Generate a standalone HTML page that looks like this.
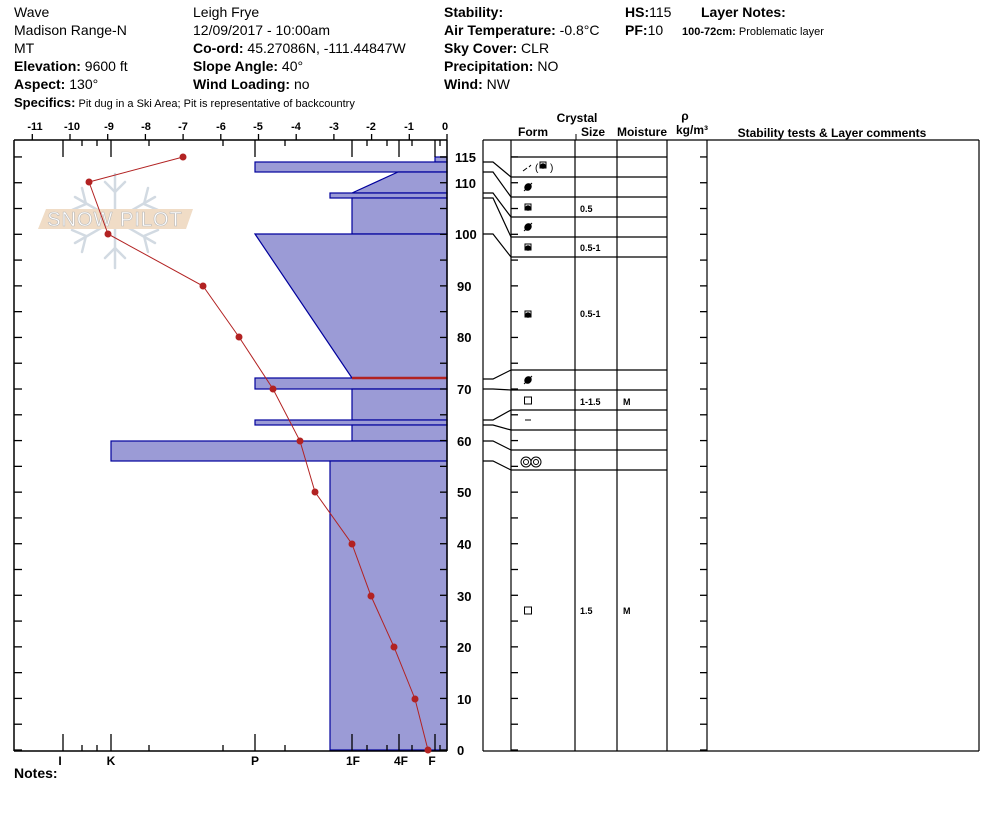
<!DOCTYPE html>
<html><head><meta charset="utf-8"><style>
body{margin:0;background:#fff;width:994px;height:840px;overflow:hidden}
svg{display:block;font-family:"Liberation Sans",Arial,sans-serif}
.h{font-size:14px}
.b{font-weight:bold}
.s{font-size:11px;font-weight:bold}
</style></head><body>
<svg width="994" height="840" viewBox="0 0 994 840" xmlns="http://www.w3.org/2000/svg">
<!-- header -->
<g class="h" fill="#000">
<text x="14" y="17">Wave</text>
<text x="14" y="35">Madison Range-N</text>
<text x="14" y="53">MT</text>
<text x="14" y="71"><tspan class="b">Elevation:</tspan> 9600 ft</text>
<text x="14" y="89"><tspan class="b">Aspect:</tspan> 130°</text>
<text x="14" y="107" font-size="13"><tspan class="b">Specifics:</tspan><tspan font-size="11"> Pit dug in a Ski Area; Pit is representative of backcountry</tspan></text>
<text x="193" y="17">Leigh Frye</text>
<text x="193" y="35">12/09/2017 - 10:00am</text>
<text x="193" y="53"><tspan class="b">Co-ord:</tspan> 45.27086N, -111.44847W</text>
<text x="193" y="71"><tspan class="b">Slope Angle:</tspan> 40°</text>
<text x="193" y="89"><tspan class="b">Wind Loading:</tspan> no</text>
<text x="444" y="17" class="b">Stability:</text>
<text x="444" y="35"><tspan class="b">Air Temperature:</tspan> -0.8°C</text>
<text x="444" y="53"><tspan class="b">Sky Cover:</tspan> CLR</text>
<text x="444" y="71"><tspan class="b">Precipitation:</tspan> NO</text>
<text x="444" y="89"><tspan class="b">Wind:</tspan>  NW</text>
<text x="625" y="17"><tspan class="b">HS:</tspan>115</text>
<text x="625" y="35"><tspan class="b">PF:</tspan>10</text>
<text x="701" y="17" class="b">Layer Notes:</text>
<text x="682" y="35" font-size="11"><tspan class="b">100-72cm:</tspan> Problematic layer</text>
</g>

<!-- watermark -->
<g stroke="#d2dae2" stroke-width="2.5" fill="none" stroke-linecap="round">
<line x1="115" y1="174" x2="115" y2="268"/>
<line x1="75" y1="197" x2="155" y2="243"/>
<line x1="75" y1="243" x2="155" y2="197"/>
<path d="M105 182 L115 192 L125 182 M105 258 L115 248 L125 258 M82 188 L86 204 L72 210 M148 188 L144 204 L158 210 M82 252 L86 236 L72 230 M148 252 L144 236 L158 230"/>
</g>
<polygon points="46,209 193,209 186,229 38,229" fill="#f0dcc6"/>
<text x="115" y="226" text-anchor="middle" font-size="20" fill="#fff" stroke="#bbb" stroke-width="0.6" letter-spacing="1">SNOW PILOT</text>

<!-- hardness bars -->
<g fill="#9b9bd6" stroke="#00009c" stroke-width="1.2">
<rect x="435" y="157" width="12" height="5"/>
<rect x="255" y="162" width="192" height="10"/>
<polygon points="398,172 447,172 447,193 353,193 352,193"/>
<rect x="330" y="193" width="117" height="5"/>
<rect x="352" y="198" width="95" height="36"/>
<polygon points="255,234 447,234 447,378 352,378"/>
<rect x="255" y="378" width="192" height="11"/>
<rect x="352" y="389" width="95" height="31"/>
<rect x="255" y="420" width="192" height="5"/>
<rect x="352" y="425" width="95" height="16"/>
<rect x="111" y="441" width="336" height="20"/>
<rect x="330" y="461" width="117" height="289"/>
</g>
<line x1="352" y1="378" x2="447" y2="378" stroke="#b22222" stroke-width="2.5"/>

<!-- left chart frame -->
<g stroke="#000" stroke-width="1.5" fill="none">
<line x1="14" y1="140" x2="447" y2="140"/>
<line x1="14" y1="140" x2="14" y2="751"/>
<line x1="14" y1="751" x2="447" y2="751"/>
<line x1="447" y1="140" x2="447" y2="751"/>
</g>
<g id="ticks" stroke="#000" stroke-width="1.3"></g>

<!-- temp axis labels -->
<g font-size="11" font-weight="bold" text-anchor="middle">
<text x="35" y="130">-11</text><text x="72" y="130">-10</text><text x="109" y="130">-9</text><text x="146" y="130">-8</text><text x="183" y="130">-7</text><text x="221" y="130">-6</text><text x="258" y="130">-5</text><text x="296" y="130">-4</text><text x="334" y="130">-3</text><text x="371" y="130">-2</text><text x="409" y="130">-1</text><text x="445" y="130">0</text>
</g>
<!-- hardness labels -->
<g font-size="12" font-weight="bold" text-anchor="middle">
<text x="60" y="765">I</text><text x="111" y="765">K</text><text x="255" y="765">P</text><text x="353" y="765">1F</text><text x="401" y="765">4F</text><text x="432" y="765">F</text>
</g>
<text x="14" y="778" font-size="14" font-weight="bold">Notes:</text>

<!-- cm labels -->
<g font-size="13" font-weight="bold">
<text x="455" y="162">115</text><text x="455" y="188">110</text><text x="455" y="239">100</text>
<text x="457" y="291">90</text><text x="457" y="342">80</text><text x="457" y="394">70</text><text x="457" y="446">60</text><text x="457" y="497">50</text><text x="457" y="549">40</text><text x="457" y="601">30</text><text x="457" y="652">20</text><text x="457" y="704">10</text><text x="457" y="755">0</text>
</g>

<!-- temperature profile -->
<polyline points="183,157 89,182 108,234 203,286 239,337 273,389 300,441 315,492 352,544 371,596 394,647 415,699 428,750" fill="none" stroke="#b22222" stroke-width="1"/>
<g fill="#b22222">
<circle cx="183" cy="157" r="3.5"/><circle cx="89" cy="182" r="3.5"/><circle cx="108" cy="234" r="3.5"/><circle cx="203" cy="286" r="3.5"/><circle cx="239" cy="337" r="3.5"/><circle cx="273" cy="389" r="3.5"/><circle cx="300" cy="441" r="3.5"/><circle cx="315" cy="492" r="3.5"/><circle cx="352" cy="544" r="3.5"/><circle cx="371" cy="596" r="3.5"/><circle cx="394" cy="647" r="3.5"/><circle cx="415" cy="699" r="3.5"/><circle cx="428" cy="750" r="3.5"/>
</g>

<!-- right table -->
<g font-size="12" font-weight="bold" text-anchor="middle">
<text x="577" y="122">Crystal</text>
<text x="533" y="136">Form</text>
<text x="593" y="136">Size</text>
<text x="642" y="136">Moisture</text>
<text x="685" y="120">ρ</text>
<text x="692" y="134">kg/m³</text>
<text x="832" y="137">Stability tests &amp; Layer comments</text>
</g>
<line x1="576" y1="134" x2="576" y2="140" stroke="#000"/>
<g stroke="#000" stroke-width="1.2" fill="none">
<line x1="483" y1="140" x2="979" y2="140"/>
<line x1="483" y1="140" x2="483" y2="751"/>
<line x1="483" y1="751" x2="979" y2="751"/>
<line x1="979" y1="140" x2="979" y2="751"/>
<line x1="511" y1="140" x2="511" y2="751"/>
<line x1="575" y1="140" x2="575" y2="751"/>
<line x1="617" y1="140" x2="617" y2="751"/>
<line x1="667" y1="140" x2="667" y2="751"/>
<line x1="707" y1="140" x2="707" y2="751"/>
<path d="M511 157H667M511 177H667M511 197H667M511 217H667M511 237H667M511 257H667M511 370H667M511 390H667M511 410H667M511 430H667M511 450H667M511 470H667"/>
<path d="M483 162H493L511 177M483 172H493L511 197M483 193H493L511 217M483 198H493L511 237M483 234H493L511 257M483 379H493L511 370M483 389H493L511 390M483 420H493L511 410M483 425H493L511 430M483 441H493L511 450M483 461H493L511 470"/>
</g>
<!-- form symbols -->
<g font-size="9" font-weight="bold">
<text x="580" y="212">0.5</text>
<text x="580" y="251">0.5-1</text>
<text x="580" y="317">0.5-1</text>
<text x="580" y="405">1-1.5</text>
<text x="623" y="405">M</text>
<text x="580" y="614">1.5</text>
<text x="623" y="614">M</text>
</g>
<g stroke="#000" fill="#000" stroke-width="1">
<path d="M523 171 L527 168 M529 167 L531 165" fill="none"/>
<text x="535" y="171" font-size="10" stroke="none">(</text>
<rect x="540" y="162" width="6" height="6" fill="#fff"/><circle cx="543" cy="166" r="2.3"/>
<text x="550" y="171" font-size="10" stroke="none">)</text>
<ellipse cx="528" cy="187" rx="3" ry="3.5" transform="rotate(40 528 187)"/><line x1="524" y1="191" x2="532" y2="183"/>
<rect x="525" y="204" width="6" height="6" fill="#fff"/><circle cx="528" cy="208" r="2.3"/>
<ellipse cx="528" cy="227" rx="3" ry="3.5" transform="rotate(40 528 227)"/><line x1="524" y1="231" x2="532" y2="223"/>
<rect x="525" y="244" width="6" height="6" fill="#fff"/><circle cx="528" cy="248" r="2.3"/>
<rect x="525" y="311" width="6" height="6" fill="#fff"/><circle cx="528" cy="315" r="2.3"/>
<ellipse cx="528" cy="380" rx="3" ry="3.5" transform="rotate(40 528 380)"/><line x1="524" y1="384" x2="532" y2="376"/>
<rect x="524.5" y="397" width="7" height="7" fill="none"/>
<line x1="525" y1="420" x2="531" y2="420"/>
<circle cx="526" cy="462" r="5" fill="none"/><circle cx="526" cy="462" r="2.5" fill="none"/>
<circle cx="536" cy="462" r="5" fill="none"/><circle cx="536" cy="462" r="2.5" fill="none"/>
<rect x="524.5" y="607" width="7" height="7" fill="none"/>
</g>
</svg>
<script>
(function(){
var g=document.getElementById('ticks'),ns='http://www.w3.org/2000/svg';
function L(a,b,c,d){var l=document.createElementNS(ns,'line');l.setAttribute('x1',a);l.setAttribute('y1',b);l.setAttribute('x2',c);l.setAttribute('y2',d);g.appendChild(l);}
for(var k=0;k<=23;k++){var y=750-25.785*k;if(y<150)break;
L(14,y,22,y);L(440,y,447,y);L(511,y,518,y);L(700,y,707,y);}
L(440,157,447,157);
var longs=[63,111,255,352,399,435],shorts=[82,97,149,223,285,367,387,412,440];
longs.forEach(function(x){L(x,140,x,157);L(x,751,x,734);});
shorts.forEach(function(x){L(x,140,x,146);L(x,751,x,745);});
for(var i=0;i<=11;i++){var x=447-37.7*i;L(x,134,x,140);}
})();
</script>
</body></html>
